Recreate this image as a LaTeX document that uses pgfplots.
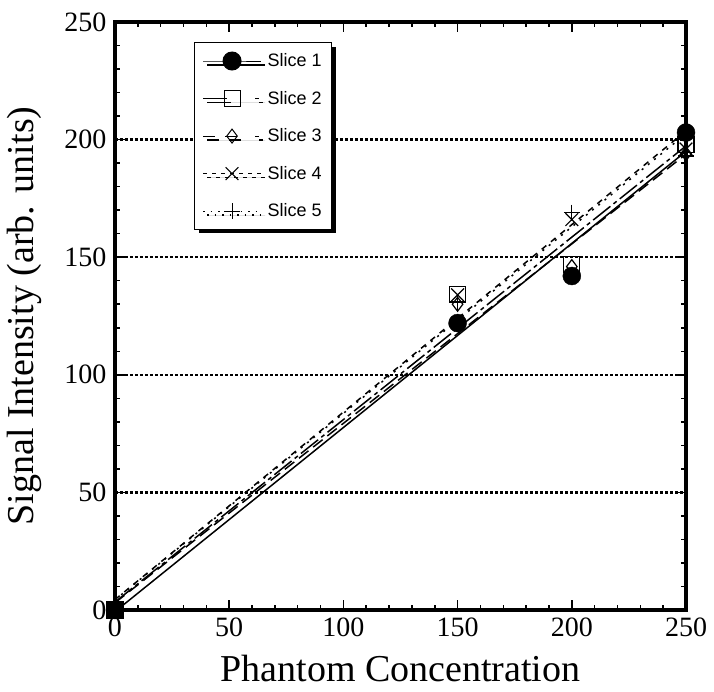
\documentclass[border=0pt]{standalone}
\usepackage{pgfplots}
\pgfplotsset{compat=1.18}
\usepackage{fontspec}
\setmainfont{Liberation Serif}
\setsansfont{Liberation Sans}
\usetikzlibrary{shadows}
\begin{document}
\begin{tikzpicture}
\begin{axis}[
  scale only axis,
  width=571pt, height=588pt,
  xmin=0, xmax=250, ymin=0, ymax=250,
  xtick={0,50,100,150,200,250},
  ytick={0,50,100,150,200,250},
  minor x tick num=4, minor y tick num=4,
  tick align=inside,
  major tick length=10pt, minor tick length=5pt,
  every tick/.style={black, line width=1.5pt},
  axis line style={line width=3.5pt},
  axis on top,
  clip mode=individual,
  ymajorgrids,
  grid style={black, line width=2.5pt, dash pattern=on 2.6pt off 2.4pt},
  /pgf/number format/assume math mode=true,
  tick label style={font=\fontsize{28}{30}\selectfont},
  xticklabel style={yshift=-4pt},
  yticklabel style={xshift=-5pt},
  xlabel={Phantom Concentration},
  ylabel={Signal Intensity (arb. units)},
  label style={font=\fontsize{38}{40}\selectfont},
  xlabel style={at={(axis description cs:0.5,-0.100)}, anchor=center},
  ylabel style={at={(axis description cs:-0.158,0.5)}, anchor=center},
  legend style={at={(axis description cs:0.138,0.966)}, anchor=north west,
    draw=black, line width=1.5pt, fill=white,
    drop shadow={shadow xshift=4pt, shadow yshift=-4pt, fill=black, opacity=1},
    font=\fontsize{18}{20}\sffamily, row sep=19pt, column sep=4pt,
    inner xsep=8pt, inner ysep=9pt},
  legend cell align=left,
  legend image code/.code={\draw[line width=1pt, mark repeat=2,mark phase=2,#1] plot coordinates {(0pt,0pt) (29pt,0pt) (58pt,0pt)};},
]
% fit lines
\addplot[black, line width=1.5pt, forget plot] coordinates {(0,-0.69) (250,195.0)};
\addplot[black, line width=1.5pt, dash pattern=on 22pt off 4pt on 4pt off 4pt, forget plot] coordinates {(0,3.39) (250,197.3)};
\addplot[black, line width=1.5pt, dash pattern=on 12pt off 6pt, forget plot] coordinates {(0,3.07) (250,193.8)};
\addplot[black, line width=1.5pt, dash pattern=on 6pt off 6pt, forget plot] coordinates {(0,4.43) (250,203.7)};
\addplot[black, line width=1.5pt, dash pattern=on 2pt off 6pt, forget plot] coordinates {(0,4.32) (250,202.5)};
% data points
\addplot[only marks, mark=*, mark size=9pt, fill=black, forget plot] coordinates {(0,0) (150,122) (200,142) (250,203)};
\addplot[only marks, mark=square, mark size=8pt, line width=1.2pt, forget plot] coordinates {(0,0) (150,134) (200,147) (250,198)};
\addplot[only marks, mark=diamond, mark size=7pt, line width=1.2pt, forget plot] coordinates {(0,0) (150,130) (200,146) (250,194)};
\addplot[only marks, mark=x, mark size=9pt, line width=1.2pt, forget plot] coordinates {(0,0) (150,134) (200,166) (250,196)};
\addplot[only marks, mark=+, mark size=8pt, line width=1.2pt, forget plot] coordinates {(0,0) (150,131) (200,169) (250,193)};
\addplot[only marks, mark=square*, mark size=8pt, fill=black, forget plot] coordinates {(0,0)};
% legend
\addlegendimage{black, mark=*, mark size=9pt, mark options={solid, fill=black}}
\addlegendentry{Slice 1}
\addlegendimage{black, dash pattern=on 24pt off 28pt on 4pt off 10pt, mark=square, mark size=8pt, mark options={solid, fill=white, line width=1pt}}
\addlegendentry{Slice 2}
\addlegendimage{black, dash pattern=on 12pt off 10pt on 12pt off 18pt on 4pt off 10pt, mark=diamond, mark size=7pt, mark options={solid, fill=white, line width=1pt}}
\addlegendentry{Slice 3}
\addlegendimage{black, dash pattern=on 4pt off 5pt, mark=x, mark size=9pt, mark options={solid, line width=1pt}}
\addlegendentry{Slice 4}
\addlegendimage{black, dash pattern=on 1.5pt off 6pt, mark=+, mark size=8pt, mark options={solid, line width=1pt}}
\addlegendentry{Slice 5}
\coordinate (bl) at (rel axis cs:0,0);
\coordinate (tr) at (rel axis cs:1,1);
\end{axis}
\pgfresetboundingbox
\path[use as bounding box] (bl) ++(-115pt,-82pt) rectangle ([shift={(28pt,22pt)}]tr);
\end{tikzpicture}
\end{document}
